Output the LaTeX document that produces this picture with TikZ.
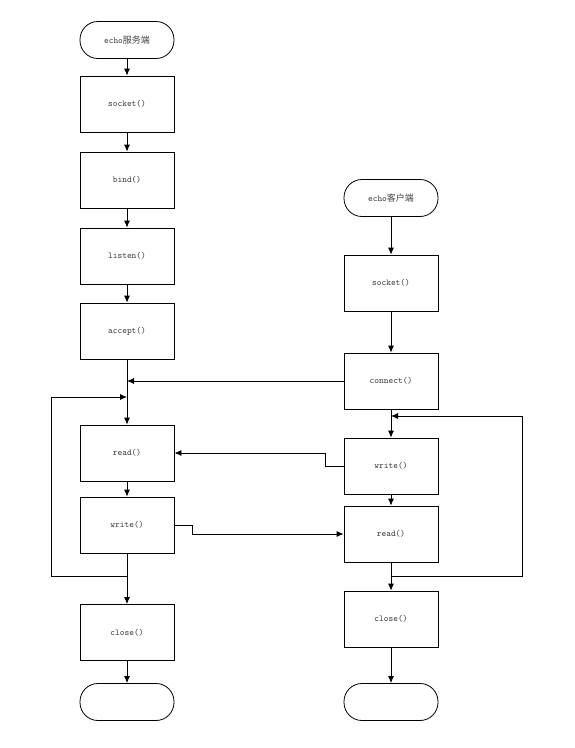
\documentclass[tikz,border=0pt]{standalone}
\usepackage{fontspec}
\newfontfamily\cjk{Noto Sans CJK SC}
\usetikzlibrary{arrows.meta}

\begin{document}
\begin{tikzpicture}[x=1pt,y=-1pt,>={Latex[length=7pt,width=6pt]},line width=0.8pt,
  box/.style={draw,minimum width=94pt,minimum height=56pt,inner sep=0pt,text=black!75,font=\ttfamily\fontsize{9}{11}\selectfont},
  term/.style={draw,rounded corners=18pt,minimum width=94pt,minimum height=37pt,inner sep=0pt,text=black!75,font=\ttfamily\fontsize{9}{11}\selectfont}]
\useasboundingbox (0,0) rectangle (575,748);
% server side
\node[term] (srvstart) at (127,40) {echo{\cjk 服务端}};
\node[box] (ssocket) at (127,104) {socket()};
\node[box] (sbind) at (127,180) {bind()};
\node[box] (slisten) at (127,256) {listen()};
\node[box] (saccept) at (127,331) {accept()};
\coordinate (sjoin) at (127,381);
\coordinate (sloop) at (127,397);
\node[box] (sread) at (127,453) {read()};
\node[box] (swrite) at (127,525) {write()};
\coordinate (sout) at (127,576);
\node[box] (sclose) at (127,632.5) {close()};
\node[term] (send) at (127,702) {};
% client side
\node[term] (clistart) at (391,198) {echo{\cjk 客户端}};
\node[box] (csocket) at (391,283) {socket()};
\node[box] (cconnect) at (391,381) {connect()};
\coordinate (cjoin) at (391,416);
\node[box] (cwrite) at (391,466) {write()};
\node[box] (cread) at (391,534) {read()};
\coordinate (cout) at (391,576);
\node[box] (cclose) at (391,619) {close()};
\node[term] (cend) at (391,702) {};

\draw[->] (srvstart) -- (ssocket);
\draw[->] (ssocket) -- (sbind);
\draw[->] (sbind) -- (slisten);
\draw[->] (slisten) -- (saccept);
\draw[->] (saccept) -- (sread);
\draw[->] (sread) -- (swrite);
\draw[->] (swrite) -- (sclose);
\draw[->] (sclose) -- (send);
\draw[->] (sout) -- ++(-76,0) |- (sloop);

\draw[->] (clistart) -- (csocket);
\draw[->] (csocket) -- (cconnect);
\draw[->] (cconnect) -- (cwrite);
\draw[->] (cwrite) -- (cread);
\draw[->] (cread) -- (cclose);
\draw[->] (cclose) -- (cend);
\draw[->] (cout) -- ++(131,0) |- (cjoin);

\draw[->] (cconnect) -- (sjoin);
\draw[->] (cwrite.west) -- ++(-18,0) |- (sread.east);
\draw[->] (swrite.east) -- ++(18,0) |- (cread.west);
\end{tikzpicture}
\end{document}
